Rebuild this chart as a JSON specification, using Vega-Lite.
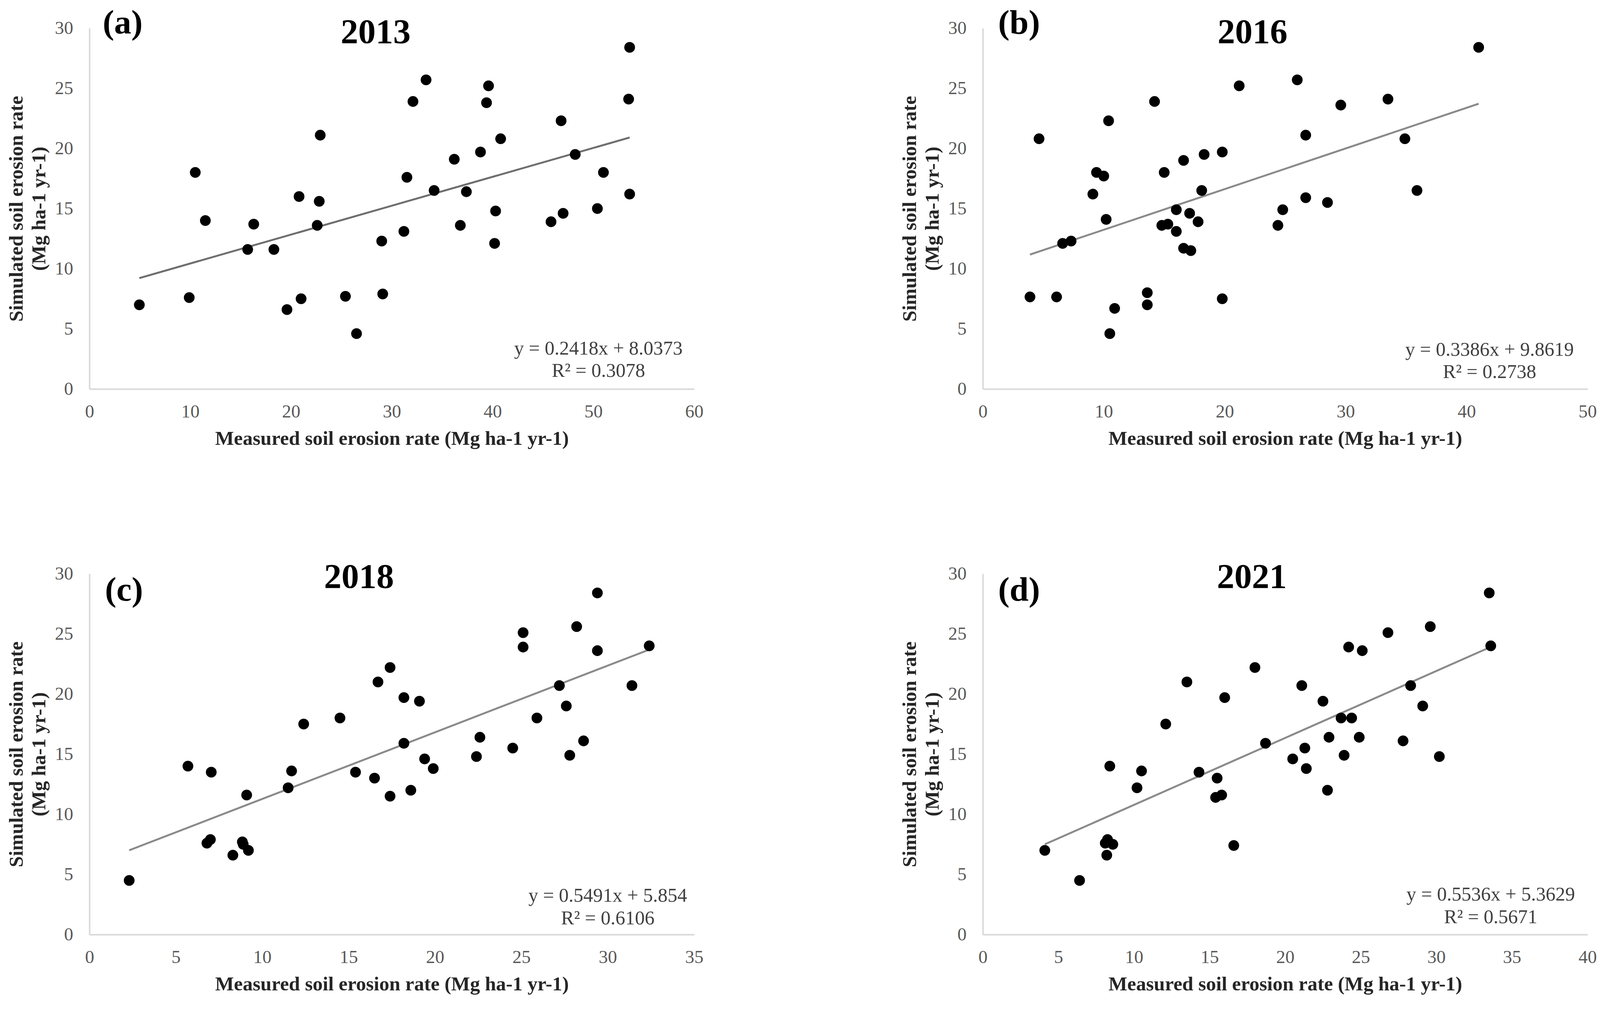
{
  "$schema": "https://vega.github.io/schema/vega-lite/v6.json",
  "padding": {"left": 16, "top": 15, "right": 0, "bottom": 10},
  "background": "white",
  "config": {
    "font": "Liberation Serif",
    "view": {"stroke": null},
    "axis": {
      "grid": false,
      "ticks": false,
      "domainColor": "#d9d9d9",
      "domainWidth": 3.9,
      "labelFont": "Liberation Serif",
      "labelFontSize": 47,
      "labelColor": "#595959",
      "labelFlush": false,
      "labelOverlap": false,
      "titleFont": "Liberation Serif",
      "titleFontSize": 51,
      "titleFontWeight": "bold",
      "titleColor": "#262626"
    },
    "axisX": {"labelPadding": 35, "titlePadding": 21},
    "axisY": {"labelPadding": 42, "titlePadding": 14, "titleLineHeight": 58},
    "text": {"font": "Liberation Serif"}
  },
  "datasets": {
    "p2013": [
      {"measured": 4.95, "simulated": 7.0}, {"measured": 9.9, "simulated": 7.6}, {"measured": 10.5, "simulated": 18.0}, {"measured": 11.5, "simulated": 14.0},
      {"measured": 15.7, "simulated": 11.6}, {"measured": 16.3, "simulated": 13.7}, {"measured": 18.3, "simulated": 11.6}, {"measured": 19.6, "simulated": 6.6},
      {"measured": 21.0, "simulated": 7.5}, {"measured": 20.8, "simulated": 16.0}, {"measured": 22.9, "simulated": 21.1}, {"measured": 22.8, "simulated": 15.6},
      {"measured": 22.6, "simulated": 13.6}, {"measured": 25.4, "simulated": 7.7}, {"measured": 26.5, "simulated": 4.6}, {"measured": 29.0, "simulated": 12.3},
      {"measured": 29.1, "simulated": 7.9}, {"measured": 31.2, "simulated": 13.1}, {"measured": 31.5, "simulated": 17.6}, {"measured": 32.1, "simulated": 23.9},
      {"measured": 33.4, "simulated": 25.7}, {"measured": 34.2, "simulated": 16.5}, {"measured": 36.2, "simulated": 19.1}, {"measured": 36.8, "simulated": 13.6},
      {"measured": 37.4, "simulated": 16.4}, {"measured": 38.8, "simulated": 19.7}, {"measured": 39.4, "simulated": 23.8}, {"measured": 39.6, "simulated": 25.2},
      {"measured": 40.8, "simulated": 20.8}, {"measured": 40.3, "simulated": 14.8}, {"measured": 40.2, "simulated": 12.1}, {"measured": 45.8, "simulated": 13.9},
      {"measured": 47.0, "simulated": 14.6}, {"measured": 46.8, "simulated": 22.3}, {"measured": 48.2, "simulated": 19.5}, {"measured": 50.4, "simulated": 15.0},
      {"measured": 51.0, "simulated": 18.0}, {"measured": 53.6, "simulated": 16.2}, {"measured": 53.5, "simulated": 24.1}, {"measured": 53.6, "simulated": 28.4}
    ],
    "p2016": [
      {"measured": 3.9, "simulated": 7.65}, {"measured": 4.65, "simulated": 20.8}, {"measured": 6.1, "simulated": 7.65}, {"measured": 6.6, "simulated": 12.1},
      {"measured": 7.3, "simulated": 12.3}, {"measured": 9.1, "simulated": 16.2}, {"measured": 9.4, "simulated": 18.0}, {"measured": 10.0, "simulated": 17.7},
      {"measured": 10.2, "simulated": 14.1}, {"measured": 10.4, "simulated": 22.3}, {"measured": 10.5, "simulated": 4.6}, {"measured": 10.9, "simulated": 6.7},
      {"measured": 13.6, "simulated": 8.0}, {"measured": 13.6, "simulated": 7.0}, {"measured": 14.2, "simulated": 23.9}, {"measured": 14.8, "simulated": 13.6},
      {"measured": 15.3, "simulated": 13.7}, {"measured": 15.0, "simulated": 18.0}, {"measured": 16.0, "simulated": 14.9}, {"measured": 16.0, "simulated": 13.1},
      {"measured": 16.6, "simulated": 19.0}, {"measured": 17.1, "simulated": 14.6}, {"measured": 16.6, "simulated": 11.7}, {"measured": 17.2, "simulated": 11.5},
      {"measured": 17.8, "simulated": 13.9}, {"measured": 18.1, "simulated": 16.5}, {"measured": 18.3, "simulated": 19.5}, {"measured": 19.8, "simulated": 19.7},
      {"measured": 19.8, "simulated": 7.5}, {"measured": 21.2, "simulated": 25.2}, {"measured": 24.4, "simulated": 13.6}, {"measured": 24.8, "simulated": 14.9},
      {"measured": 26.0, "simulated": 25.7}, {"measured": 26.7, "simulated": 21.1}, {"measured": 26.7, "simulated": 15.9}, {"measured": 28.5, "simulated": 15.5},
      {"measured": 29.6, "simulated": 23.6}, {"measured": 33.5, "simulated": 24.1}, {"measured": 34.9, "simulated": 20.8}, {"measured": 35.9, "simulated": 16.5},
      {"measured": 41.0, "simulated": 28.4}
    ],
    "p2018": [
      {"measured": 2.3, "simulated": 4.5}, {"measured": 5.7, "simulated": 14.0}, {"measured": 7.05, "simulated": 13.5}, {"measured": 6.8, "simulated": 7.6},
      {"measured": 7.0, "simulated": 7.9}, {"measured": 8.3, "simulated": 6.6}, {"measured": 8.85, "simulated": 7.7}, {"measured": 8.9, "simulated": 7.5},
      {"measured": 9.2, "simulated": 7.0}, {"measured": 9.1, "simulated": 11.6}, {"measured": 11.5, "simulated": 12.2}, {"measured": 11.7, "simulated": 13.6},
      {"measured": 12.4, "simulated": 17.5}, {"measured": 14.5, "simulated": 18.0}, {"measured": 15.4, "simulated": 13.5}, {"measured": 16.5, "simulated": 13.0},
      {"measured": 16.7, "simulated": 21.0}, {"measured": 17.4, "simulated": 22.2}, {"measured": 17.4, "simulated": 11.5}, {"measured": 18.2, "simulated": 19.7},
      {"measured": 18.2, "simulated": 15.9}, {"measured": 18.6, "simulated": 12.0}, {"measured": 19.1, "simulated": 19.4}, {"measured": 19.4, "simulated": 14.6},
      {"measured": 19.9, "simulated": 13.8}, {"measured": 22.4, "simulated": 14.8}, {"measured": 22.6, "simulated": 16.4}, {"measured": 24.5, "simulated": 15.5},
      {"measured": 25.1, "simulated": 25.1}, {"measured": 25.1, "simulated": 23.9}, {"measured": 25.9, "simulated": 18.0}, {"measured": 27.2, "simulated": 20.7},
      {"measured": 27.6, "simulated": 19.0}, {"measured": 27.8, "simulated": 14.9}, {"measured": 28.2, "simulated": 25.6}, {"measured": 28.6, "simulated": 16.1},
      {"measured": 29.4, "simulated": 28.4}, {"measured": 29.4, "simulated": 23.6}, {"measured": 31.4, "simulated": 20.7}, {"measured": 32.4, "simulated": 24.0}
    ],
    "p2021": [
      {"measured": 4.1, "simulated": 7.0}, {"measured": 6.4, "simulated": 4.5}, {"measured": 8.1, "simulated": 7.6}, {"measured": 8.25, "simulated": 7.9},
      {"measured": 8.6, "simulated": 7.5}, {"measured": 8.2, "simulated": 6.6}, {"measured": 8.4, "simulated": 14.0}, {"measured": 10.2, "simulated": 12.2},
      {"measured": 10.5, "simulated": 13.6}, {"measured": 12.1, "simulated": 17.5}, {"measured": 13.5, "simulated": 21.0}, {"measured": 14.3, "simulated": 13.5},
      {"measured": 15.5, "simulated": 13.0}, {"measured": 15.4, "simulated": 11.4}, {"measured": 15.8, "simulated": 11.6}, {"measured": 16.0, "simulated": 19.7},
      {"measured": 16.6, "simulated": 7.4}, {"measured": 18.0, "simulated": 22.2}, {"measured": 18.7, "simulated": 15.9}, {"measured": 20.5, "simulated": 14.6},
      {"measured": 21.1, "simulated": 20.7}, {"measured": 21.3, "simulated": 15.5}, {"measured": 21.4, "simulated": 13.8}, {"measured": 22.5, "simulated": 19.4},
      {"measured": 22.8, "simulated": 12.0}, {"measured": 22.9, "simulated": 16.4}, {"measured": 23.7, "simulated": 18.0}, {"measured": 23.9, "simulated": 14.9},
      {"measured": 24.2, "simulated": 23.9}, {"measured": 24.4, "simulated": 18.0}, {"measured": 24.9, "simulated": 16.4}, {"measured": 25.1, "simulated": 23.6},
      {"measured": 26.8, "simulated": 25.1}, {"measured": 27.8, "simulated": 16.1}, {"measured": 28.3, "simulated": 20.7}, {"measured": 29.1, "simulated": 19.0},
      {"measured": 29.6, "simulated": 25.6}, {"measured": 30.2, "simulated": 14.8}, {"measured": 33.5, "simulated": 28.4}, {"measured": 33.6, "simulated": 24.0}
    ]
  },
  "concat": [
    {
      "width": 1548, "height": 924,
      "layer": [
        {"data": {"name": "p2013"}, "transform": [{"regression": "simulated", "on": "measured"}], "mark": {"type": "line", "color": "#6e6e6e", "strokeWidth": 4.9},
         "encoding": {
           "x": {"field": "measured", "type": "quantitative", "scale": {"domain": [0, 60], "nice": false}, "axis": {"values": [0, 10, 20, 30, 40, 50, 60]}, "title": "Measured soil erosion rate (Mg ha-1 yr-1)"},
           "y": {"field": "simulated", "type": "quantitative", "scale": {"domain": [0, 30], "nice": false}, "axis": {"values": [0, 5, 10, 15, 20, 25, 30]}, "title": ["Simulated soil erosion rate", "(Mg ha-1 yr-1)"]}}},
        {"data": {"name": "p2013"}, "mark": {"type": "circle", "size": 757, "color": "#000000", "opacity": 1},
         "encoding": {
           "x": {"field": "measured", "type": "quantitative", "title": "Measured soil erosion rate (Mg ha-1 yr-1)"},
           "y": {"field": "simulated", "type": "quantitative", "title": ["Simulated soil erosion rate", "(Mg ha-1 yr-1)"]}}},
        {"data": {"values": [{"label": "2013"}]}, "mark": {"type": "text", "fontSize": 89.5, "fontWeight": "bold", "color": "#000000", "baseline": "middle", "align": "center"},
         "encoding": {"text": {"field": "label", "type": "nominal"}, "x": {"datum": 28.4, "type": "quantitative", "title": "Measured soil erosion rate (Mg ha-1 yr-1)"}, "y": {"datum": 29.65, "type": "quantitative", "title": ["Simulated soil erosion rate", "(Mg ha-1 yr-1)"]}}},
        {"data": {"values": [{"label": "(a)"}]}, "mark": {"type": "text", "fontSize": 87.6, "fontWeight": "bold", "color": "#000000", "baseline": "middle", "align": "center"},
         "encoding": {"text": {"field": "label", "type": "nominal"}, "x": {"datum": 3.3, "type": "quantitative", "title": "Measured soil erosion rate (Mg ha-1 yr-1)"}, "y": {"datum": 30.4, "type": "quantitative", "title": ["Simulated soil erosion rate", "(Mg ha-1 yr-1)"]}}},
        {"data": {"values": [{"label": "y = 0.2418x + 8.0373\nR² = 0.3078"}]}, "mark": {"type": "text", "fontSize": 50, "color": "#404040", "baseline": "middle", "align": "center", "lineBreak": "\n", "lineHeight": 57.4},
         "encoding": {"text": {"field": "label", "type": "nominal"}, "x": {"datum": 50.5, "type": "quantitative", "title": "Measured soil erosion rate (Mg ha-1 yr-1)"}, "y": {"datum": 3.35, "type": "quantitative", "title": ["Simulated soil erosion rate", "(Mg ha-1 yr-1)"]}}}
      ]
    },
    {
      "width": 1548, "height": 924,
      "layer": [
        {"data": {"name": "p2016"}, "transform": [{"regression": "simulated", "on": "measured"}], "mark": {"type": "line", "color": "#8a8a8a", "strokeWidth": 4.9},
         "encoding": {
           "x": {"field": "measured", "type": "quantitative", "scale": {"domain": [0, 50], "nice": false}, "axis": {"values": [0, 10, 20, 30, 40, 50]}, "title": "Measured soil erosion rate (Mg ha-1 yr-1)"},
           "y": {"field": "simulated", "type": "quantitative", "scale": {"domain": [0, 30], "nice": false}, "axis": {"values": [0, 5, 10, 15, 20, 25, 30]}, "title": ["Simulated soil erosion rate", "(Mg ha-1 yr-1)"]}}},
        {"data": {"name": "p2016"}, "mark": {"type": "circle", "size": 757, "color": "#000000", "opacity": 1},
         "encoding": {
           "x": {"field": "measured", "type": "quantitative", "title": "Measured soil erosion rate (Mg ha-1 yr-1)"},
           "y": {"field": "simulated", "type": "quantitative", "title": ["Simulated soil erosion rate", "(Mg ha-1 yr-1)"]}}},
        {"data": {"values": [{"label": "2016"}]}, "mark": {"type": "text", "fontSize": 89.5, "fontWeight": "bold", "color": "#000000", "baseline": "middle", "align": "center"},
         "encoding": {"text": {"field": "label", "type": "nominal"}, "x": {"datum": 22.3, "type": "quantitative", "title": "Measured soil erosion rate (Mg ha-1 yr-1)"}, "y": {"datum": 29.65, "type": "quantitative", "title": ["Simulated soil erosion rate", "(Mg ha-1 yr-1)"]}}},
        {"data": {"values": [{"label": "(b)"}]}, "mark": {"type": "text", "fontSize": 87.6, "fontWeight": "bold", "color": "#000000", "baseline": "middle", "align": "center"},
         "encoding": {"text": {"field": "label", "type": "nominal"}, "x": {"datum": 3.0, "type": "quantitative", "title": "Measured soil erosion rate (Mg ha-1 yr-1)"}, "y": {"datum": 30.4, "type": "quantitative", "title": ["Simulated soil erosion rate", "(Mg ha-1 yr-1)"]}}},
        {"data": {"values": [{"label": "y = 0.3386x + 9.8619\nR² = 0.2738"}]}, "mark": {"type": "text", "fontSize": 50, "color": "#404040", "baseline": "middle", "align": "center", "lineBreak": "\n", "lineHeight": 57.4},
         "encoding": {"text": {"field": "label", "type": "nominal"}, "x": {"datum": 41.9, "type": "quantitative", "title": "Measured soil erosion rate (Mg ha-1 yr-1)"}, "y": {"datum": 3.25, "type": "quantitative", "title": ["Simulated soil erosion rate", "(Mg ha-1 yr-1)"]}}}
      ]
    },
    {
      "width": 1548, "height": 924,
      "layer": [
        {"data": {"name": "p2018"}, "transform": [{"regression": "simulated", "on": "measured"}], "mark": {"type": "line", "color": "#8a8a8a", "strokeWidth": 4.9},
         "encoding": {
           "x": {"field": "measured", "type": "quantitative", "scale": {"domain": [0, 35], "nice": false}, "axis": {"values": [0, 5, 10, 15, 20, 25, 30, 35]}, "title": "Measured soil erosion rate (Mg ha-1 yr-1)"},
           "y": {"field": "simulated", "type": "quantitative", "scale": {"domain": [0, 30], "nice": false}, "axis": {"values": [0, 5, 10, 15, 20, 25, 30]}, "title": ["Simulated soil erosion rate", "(Mg ha-1 yr-1)"]}}},
        {"data": {"name": "p2018"}, "mark": {"type": "circle", "size": 757, "color": "#000000", "opacity": 1},
         "encoding": {
           "x": {"field": "measured", "type": "quantitative", "title": "Measured soil erosion rate (Mg ha-1 yr-1)"},
           "y": {"field": "simulated", "type": "quantitative", "title": ["Simulated soil erosion rate", "(Mg ha-1 yr-1)"]}}},
        {"data": {"values": [{"label": "2018"}]}, "mark": {"type": "text", "fontSize": 89.5, "fontWeight": "bold", "color": "#000000", "baseline": "middle", "align": "center"},
         "encoding": {"text": {"field": "label", "type": "nominal"}, "x": {"datum": 15.6, "type": "quantitative", "title": "Measured soil erosion rate (Mg ha-1 yr-1)"}, "y": {"datum": 29.7, "type": "quantitative", "title": ["Simulated soil erosion rate", "(Mg ha-1 yr-1)"]}}},
        {"data": {"values": [{"label": "(c)"}]}, "mark": {"type": "text", "fontSize": 87.6, "fontWeight": "bold", "color": "#000000", "baseline": "middle", "align": "center"},
         "encoding": {"text": {"field": "label", "type": "nominal"}, "x": {"datum": 2.0, "type": "quantitative", "title": "Measured soil erosion rate (Mg ha-1 yr-1)"}, "y": {"datum": 28.6, "type": "quantitative", "title": ["Simulated soil erosion rate", "(Mg ha-1 yr-1)"]}}},
        {"data": {"values": [{"label": "y = 0.5491x + 5.854\nR² = 0.6106"}]}, "mark": {"type": "text", "fontSize": 50, "color": "#404040", "baseline": "middle", "align": "center", "lineBreak": "\n", "lineHeight": 57.4},
         "encoding": {"text": {"field": "label", "type": "nominal"}, "x": {"datum": 30.0, "type": "quantitative", "title": "Measured soil erosion rate (Mg ha-1 yr-1)"}, "y": {"datum": 3.2, "type": "quantitative", "title": ["Simulated soil erosion rate", "(Mg ha-1 yr-1)"]}}}
      ]
    },
    {
      "width": 1548, "height": 924,
      "layer": [
        {"data": {"name": "p2021"}, "transform": [{"regression": "simulated", "on": "measured"}], "mark": {"type": "line", "color": "#8a8a8a", "strokeWidth": 4.9},
         "encoding": {
           "x": {"field": "measured", "type": "quantitative", "scale": {"domain": [0, 40], "nice": false}, "axis": {"values": [0, 5, 10, 15, 20, 25, 30, 35, 40]}, "title": "Measured soil erosion rate (Mg ha-1 yr-1)"},
           "y": {"field": "simulated", "type": "quantitative", "scale": {"domain": [0, 30], "nice": false}, "axis": {"values": [0, 5, 10, 15, 20, 25, 30]}, "title": ["Simulated soil erosion rate", "(Mg ha-1 yr-1)"]}}},
        {"data": {"name": "p2021"}, "mark": {"type": "circle", "size": 757, "color": "#000000", "opacity": 1},
         "encoding": {
           "x": {"field": "measured", "type": "quantitative", "title": "Measured soil erosion rate (Mg ha-1 yr-1)"},
           "y": {"field": "simulated", "type": "quantitative", "title": ["Simulated soil erosion rate", "(Mg ha-1 yr-1)"]}}},
        {"data": {"values": [{"label": "2021"}]}, "mark": {"type": "text", "fontSize": 89.5, "fontWeight": "bold", "color": "#000000", "baseline": "middle", "align": "center"},
         "encoding": {"text": {"field": "label", "type": "nominal"}, "x": {"datum": 17.8, "type": "quantitative", "title": "Measured soil erosion rate (Mg ha-1 yr-1)"}, "y": {"datum": 29.7, "type": "quantitative", "title": ["Simulated soil erosion rate", "(Mg ha-1 yr-1)"]}}},
        {"data": {"values": [{"label": "(d)"}]}, "mark": {"type": "text", "fontSize": 87.6, "fontWeight": "bold", "color": "#000000", "baseline": "middle", "align": "center"},
         "encoding": {"text": {"field": "label", "type": "nominal"}, "x": {"datum": 2.4, "type": "quantitative", "title": "Measured soil erosion rate (Mg ha-1 yr-1)"}, "y": {"datum": 28.6, "type": "quantitative", "title": ["Simulated soil erosion rate", "(Mg ha-1 yr-1)"]}}},
        {"data": {"values": [{"label": "y = 0.5536x + 5.3629\nR² = 0.5671"}]}, "mark": {"type": "text", "fontSize": 50, "color": "#404040", "baseline": "middle", "align": "center", "lineBreak": "\n", "lineHeight": 57.4},
         "encoding": {"text": {"field": "label", "type": "nominal"}, "x": {"datum": 33.6, "type": "quantitative", "title": "Measured soil erosion rate (Mg ha-1 yr-1)"}, "y": {"datum": 3.3, "type": "quantitative", "title": ["Simulated soil erosion rate", "(Mg ha-1 yr-1)"]}}}
      ]
    }
  ],
  "columns": 2,
  "spacing": {"row": 473, "column": 739},
  "bounds": "flush"
}
